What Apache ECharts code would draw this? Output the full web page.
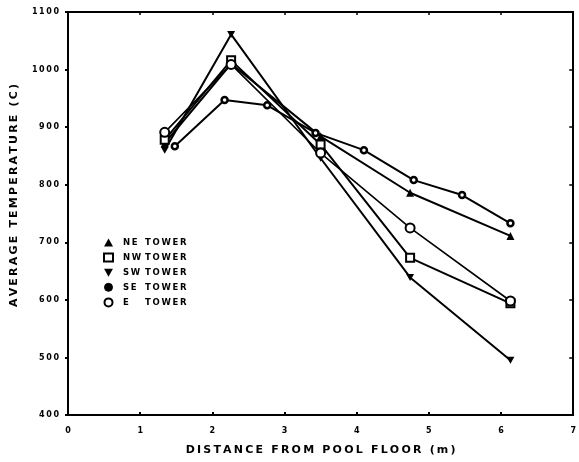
<!DOCTYPE html>
<html>
<head>
<meta charset="utf-8">
<script src="https://cdn.jsdelivr.net/npm/echarts@6/dist/echarts.min.js"></script>
<style>
  html, body { margin: 0; padding: 0; background: #fff; }
  #chart { width: 579px; height: 462px; }
</style>
</head>
<body>
<div id="chart"></div>
<script>
// Measurement heights (m) shared by most towers
const heights = [1.34, 2.26, 3.5, 4.74, 6.13];
const neTower = [872, 1010, 884, 786, 711];
const nwTower = [878, 1016, 870, 673, 594];
const swTower = [860, 1061, 846, 639, 495];
const eTower  = [891, 1009, 855, 725, 598];
// SE tower has its own, denser set of thermocouple heights
const seHeights = [1.48, 2.17, 2.76, 3.43, 4.10, 4.79, 5.46, 6.13];
const seTower   = [867, 947, 938, 890, 860, 808, 782, 733];

const xTicks = [0, 1, 2, 3, 4, 5, 6, 7];
const yTicks = [400, 500, 600, 700, 800, 900, 1000, 1100];

const xTitle = 'DISTANCE FROM POOL FLOOR (m)';
const yTitle = 'AVERAGE TEMPERATURE (C)';

// widen plotter-style lettering with thin spaces
const spaced = s => String(s).split('').join('\u2009');

const pairs = (xs, ys) => xs.map((x, i) => [x, ys[i]]);

const lineBase = {
  type: 'line',
  lineStyle: { color: '#000', width: 2 },
  emphasis: { disabled: true },
  animation: false,
  z: 3
};

const series = [
  Object.assign({}, lineBase, {
    name: 'NE TOWER', data: pairs(heights, neTower),
    symbol: 'triangle', symbolSize: 8,
    itemStyle: { color: '#000' }
  }),
  Object.assign({}, lineBase, {
    name: 'NW TOWER', data: pairs(heights, nwTower),
    symbol: 'rect', symbolSize: 8,
    itemStyle: { color: '#fff', borderColor: '#000', borderWidth: 2 }
  }),
  Object.assign({}, lineBase, {
    name: 'SW TOWER', data: pairs(heights, swTower),
    symbol: 'path://M0,0L10,0L5,9Z', symbolSize: [8, 7],
    itemStyle: { color: '#000' }
  }),
  Object.assign({}, lineBase, {
    name: 'SE TOWER', data: pairs(seHeights, seTower),
    symbol: 'circle', symbolSize: 6,
    itemStyle: { color: '#fff', borderColor: '#000', borderWidth: 2.5 }
  }),
  Object.assign({}, lineBase, {
    name: 'E TOWER', data: pairs(heights, eTower),
    symbol: 'circle', symbolSize: 9,
    lineStyle: { color: '#000', width: 1.6 },
    itemStyle: { color: '#fff', borderColor: '#000', borderWidth: 2 }
  })
];

const legendEntries = [
  { name: 'NE TOWER', icon: 'triangle' },
  { name: 'NW TOWER', icon: 'rect' },
  { name: 'SW TOWER', icon: 'path://M0,0L10,0L5,9Z' },
  { name: 'SE TOWER', icon: 'circle', itemStyle: { color: '#000', borderColor: '#000', borderWidth: 1 } },
  { name: 'E TOWER', icon: 'circle' }
];

const labelFont = {
  color: '#000',
  fontFamily: 'DejaVu Sans',
  fontWeight: 'bold',
  fontSize: 8
};

const chart = echarts.init(document.getElementById('chart'), null, { renderer: 'canvas' });

chart.setOption({
  backgroundColor: '#fff',
  animation: false,
  grid: { left: 68, right: 2, top: 12, bottom: 47 },
  legend: {
    orient: 'vertical',
    left: 98,
    top: 233,
    itemWidth: 9,
    itemHeight: 8,
    itemGap: 5.6,
    selectedMode: false,
    data: legendEntries,
    formatter: name => {
      const parts = name.split(' ');
      return '{a|' + spaced(parts[0]) + '}{b|' + spaced(parts[1]) + '}';
    },
    textStyle: {
      rich: {
        a: Object.assign({}, labelFont, { width: 22, fontSize: 8.5, padding: [0, 0, 0, 5] }),
        b: Object.assign({}, labelFont, { fontSize: 8.5 })
      }
    }
  },
  xAxis: [
    {
      type: 'value', min: xTicks[0], max: xTicks[xTicks.length - 1], interval: 1,
      name: spaced(xTitle), nameLocation: 'middle', nameGap: 30,
      nameTextStyle: Object.assign({}, labelFont, { fontSize: 11 }),
      axisLine: { show: true, onZero: false, lineStyle: { color: '#000', width: 2 } },
      axisTick: { show: true, inside: true, length: 3, lineStyle: { color: '#000', width: 2 } },
      axisLabel: Object.assign({}, labelFont, { margin: 12, formatter: v => spaced(v) }),
      splitLine: { show: false }
    },
    {
      type: 'value', position: 'top', min: xTicks[0], max: xTicks[xTicks.length - 1], interval: 1,
      axisLine: { show: true, onZero: false, lineStyle: { color: '#000', width: 2 } },
      axisTick: { show: true, inside: true, length: 3, lineStyle: { color: '#000', width: 1.5 } },
      axisLabel: { show: false },
      splitLine: { show: false }
    }
  ],
  yAxis: [
    {
      type: 'value', min: yTicks[0], max: yTicks[yTicks.length - 1], interval: 100,
      name: spaced(yTitle), nameLocation: 'middle', nameGap: 48,
      nameTextStyle: Object.assign({}, labelFont, { fontSize: 11, padding: [0, 0, 0, 36] }),
      axisLine: { show: true, onZero: false, lineStyle: { color: '#000', width: 2 } },
      axisTick: { show: true, length: 3, lineStyle: { color: '#000', width: 2 } },
      axisLabel: Object.assign({}, labelFont, { margin: 9, formatter: v => spaced(v) }),
      splitLine: { show: false }
    },
    {
      type: 'value', position: 'right', min: yTicks[0], max: yTicks[yTicks.length - 1], interval: 100,
      axisLine: { show: true, onZero: false, lineStyle: { color: '#000', width: 2 } },
      axisTick: { show: true, inside: true, length: 4, lineStyle: { color: '#000', width: 1.5 } },
      axisLabel: { show: false },
      splitLine: { show: false }
    }
  ],
  series: series
});
</script>
</body>
</html>
